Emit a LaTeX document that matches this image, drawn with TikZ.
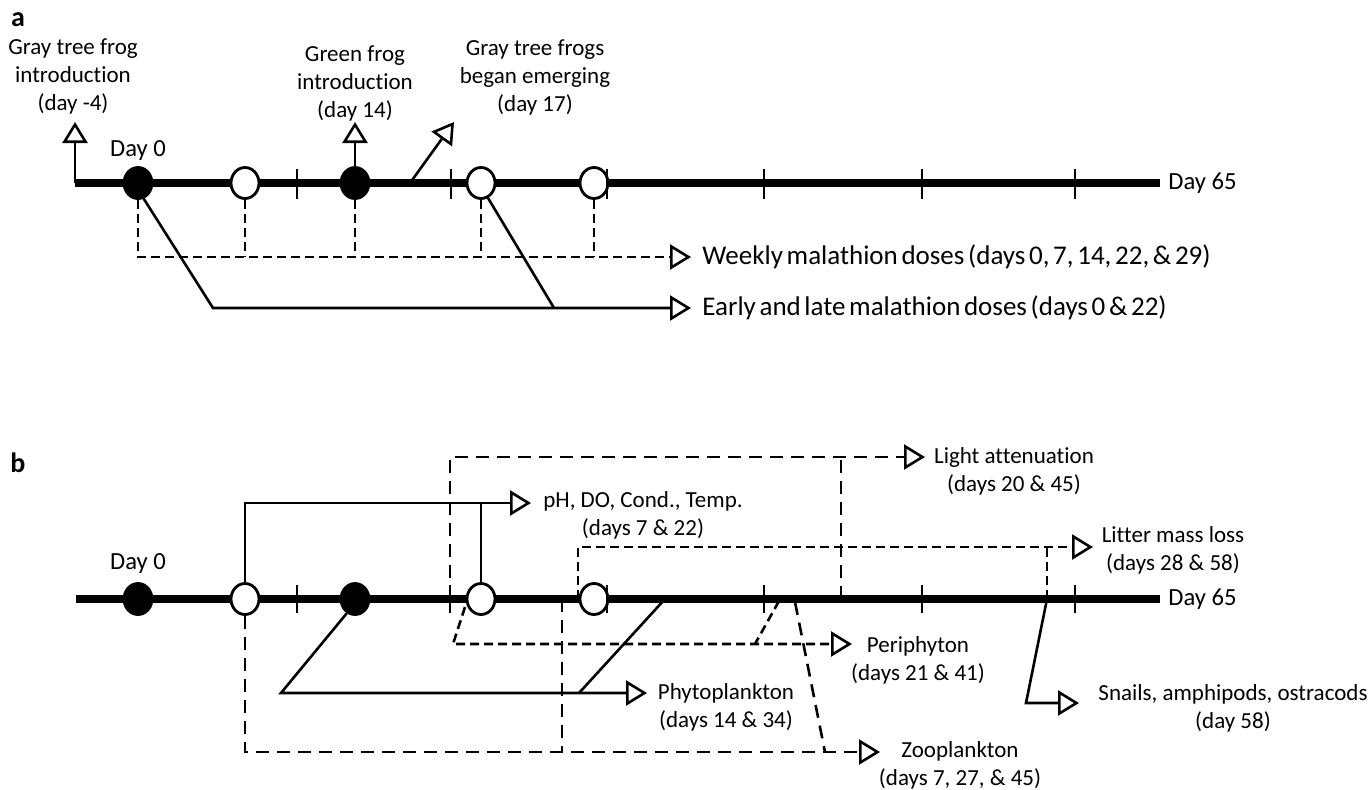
\documentclass[tikz,border=0pt]{standalone}
\usepackage{fontspec}
\setmainfont{Carlito}[Ligatures=NoCommon]
\newfontfamily\legendfont{Carlito}[Ligatures=NoCommon, WordSpace=0.6]
\usetikzlibrary{arrows.meta,shapes.geometric}
\begin{document}
\begin{tikzpicture}[x=0.5pt, y=-0.5pt,
    lbl/.style={font=\fontsize{11.5}{14}\selectfont, align=center, inner sep=0pt},
    daylbl/.style={font=\fontsize{12.3}{14}\selectfont, inner sep=0pt},
    legend/.style={font=\legendfont\fontsize{13.5}{16}\selectfont, anchor=west, inner sep=0pt},
    panel/.style={font=\fontsize{14}{16}\selectfont\bfseries, inner sep=0pt},
    axis/.style={line width=4pt},
    tickmark/.style={line width=1.4pt},
    link/.style={line width=1.3pt},
    dashlink/.style={link, dash pattern=on 4.5pt off 2.5pt},
    longdash/.style={link, dash pattern=on 6.5pt off 4pt},
    arr/.style={-{Triangle[open, length=10.5pt, width=12.5pt]}},
    dose/.style={ellipse, draw, line width=1.4pt, minimum width=14pt, minimum height=15.5pt, inner sep=0pt},
    opendose/.style={dose, fill=white},
    filleddose/.style={dose, fill=black}]
    \useasboundingbox (0,0) rectangle (1370,789);

    % panel a
    \node[panel] (pa) at (18,20) {a};
    \coordinate (aintro) at (75,183);
    \coordinate (gtftip) at (75,122);
    \coordinate (gftip) at (355,122);
    \coordinate (emfoot) at (410,183);
    \coordinate (emtip) at (454,122);
    \coordinate (wk) at (691,257);
    \coordinate (el) at (691,308);
    \coordinate (elbend) at (213,308);
    \coordinate (eljoin) at (554,308);
    \draw[axis] (aintro) -- (1160,183);
    \foreach \d/\x/\s in {0/138/filleddose, 7/245/opendose, 14/355/filleddose, 22/481/opendose, 29/594/opendose}
        \node[\s] (a\d) at (\x,183) {};
    \foreach \x in {297,451,607,764,922,1075}
        \draw[tickmark] (\x,169) -- (\x,199);
    \node[daylbl] (daya0) at (138,150) {Day 0};
    \node[daylbl, anchor=west] (daya65) at (1168,183) {Day 65};
    \node[lbl] (gtf) at (73,76) {Gray tree frog\\introduction\\(day -4)};
    \node[lbl] (gf) at (355,83) {Green frog\\introduction\\(day 14)};
    \node[lbl] (emerg) at (535,77) {Gray tree frogs\\began emerging\\(day 17)};
    \draw[link, arr] (aintro) -- (gtftip);
    \draw[link, arr] (a14.north) -- (gftip);
    \draw[link, arr] (emfoot) -- (emtip);
    \draw[dashlink, arr] (a0.south) -- (a0.south |- wk) -- (wk);
    \foreach \d in {7,14,22,29}
        \draw[dashlink] (a\d.south) -- (a\d.south |- wk);
    \draw[link, arr] (a0.-70) -- (elbend) -- (el);
    \draw[link] (a22.-65) -- (eljoin);
    \node[legend] (wklbl) at (702,257) {Weekly malathion doses (days 0, 7, 14, 22, \& 29)};
    \node[legend] (ellbl) at (702,308) {Early and late malathion doses (days 0 \& 22)};

    % panel b
    \node[panel] (pb) at (18,463) {b};
    \coordinate (bstart) at (76,599);
    \coordinate (b20) at (450,599);
    \coordinate (b21) at (465,607);
    \coordinate (b27) at (562,599);
    \coordinate (b28) at (578,599);
    \coordinate (b34) at (665,599);
    \coordinate (b41) at (779,601);
    \coordinate (b45) at (795,602);
    \coordinate (b45l) at (841,599);
    \coordinate (b58) at (1047,599);
    \coordinate (ph) at (531,503);
    \coordinate (la) at (925,457);
    \coordinate (lm) at (1093,547);
    \coordinate (pe) at (852,644);
    \coordinate (pebend) at (453,644);
    \coordinate (pejoin) at (755,644);
    \coordinate (phy) at (647,693);
    \coordinate (phybend) at (281,693);
    \coordinate (phyjoin) at (579,693);
    \coordinate (zo) at (880,752);
    \coordinate (zojoin) at (825,752);
    \coordinate (sn) at (1079,703);
    \coordinate (snbend) at (1026,703);
    \draw[longdash, arr] (b20) -- (b20 |- la) -- (la);
    \draw[longdash] (b45l) -- (b45l |- la);
    \draw[dashlink, arr] (b28) -- (b28 |- lm) -- (lm);
    \draw[dashlink] (b58) -- (b58 |- lm);
    \draw[link, arr] (b58) -- (snbend) -- (sn);
    \draw[dashlink, arr] (b21) -- (pebend) -- (pe);
    \draw[dashlink] (b41) -- (pejoin);
    \draw[link] (b34) -- (phyjoin);
    \draw[longdash] (b27) -- (b27 |- zo);
    \draw[longdash] (b45) -- (zojoin);
    \draw[axis] (bstart) -- (1160,599);
    \foreach \d/\x/\s in {0/138/filleddose, 7/245/opendose, 14/355/filleddose, 22/481/opendose, 29/594/opendose}
        \node[\s] (b\d) at (\x,599) {};
    \foreach \x in {297,450,607,764,922,1075}
        \draw[tickmark] (\x,585) -- (\x,613);
    \draw[link, arr] (b7.north) -- (b7.north |- ph) -- (ph);
    \draw[link] (b22.north) -- (b22.north |- ph);
    \draw[link, arr] (b14.-120) -- (phybend) -- (phy);
    \draw[longdash, arr] (b7.south) -- (b7.south |- zo) -- (zo);
    \node[daylbl] (dayb0) at (138,563) {Day 0};
    \node[daylbl, anchor=west] (dayb65) at (1168,599) {Day 65};
    \node[lbl] (phlbl) at (643,515) {pH, DO, Cond., Temp.\\(days 7 \& 22)};
    \node[lbl] (lalbl) at (1014,471) {Light attenuation\\(days 20 \& 45)};
    \node[lbl] (lmlbl) at (1173,550) {Litter mass loss\\(days 28 \& 58)};
    \node[lbl] (pelbl) at (918,660) {Periphyton\\(days 21 \& 41)};
    \node[lbl] (phylbl) at (726,707) {Phytoplankton\\(days 14 \& 34)};
    \node[lbl] (zolbl) at (960,765) {Zooplankton\\(days 7, 27, \& 45)};
    \node[lbl] (snlbl) at (1233,708) {Snails, amphipods, ostracods\\(day 58)};
\end{tikzpicture}
\end{document}
